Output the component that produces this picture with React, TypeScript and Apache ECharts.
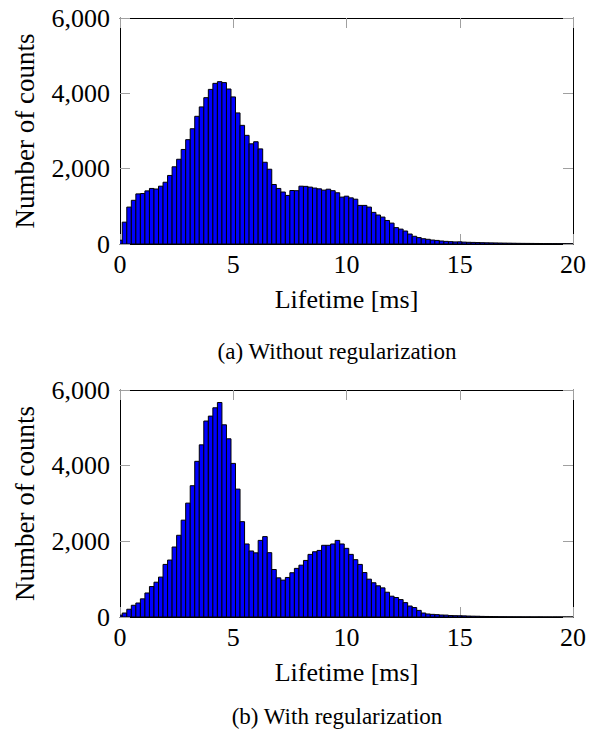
import React, { useEffect, useRef } from "react";
import * as echarts from "echarts";

// Histogram bin width (ms); bins are centred at 0, 0.2, 0.4, ... 20 ms
const BIN_WIDTH = 0.2;

// (a) Without regularization — counts per bin
const countsWithout: number[] = [
  100, 580, 980, 1160, 1330, 1340, 1410, 1475, 1460, 1535,
  1640, 1820, 2050, 2250, 2510, 2770, 3060, 3390, 3640, 3885,
  4105, 4265, 4310, 4285, 4115, 3905, 3480, 3150, 2885, 2660,
  2715, 2525, 2170, 1985, 1580, 1475, 1380, 1290, 1420, 1415,
  1535, 1530, 1510, 1485, 1465, 1430, 1455, 1415, 1360, 1245,
  1270, 1225, 1190, 1025, 1025, 980, 840, 770, 715, 625,
  555, 435, 395, 345, 265, 205, 170, 140, 125, 105,
  95, 80, 70, 62, 55, 58, 50, 45, 42, 38,
  35, 32, 30, 28, 26, 24, 22, 20, 18, 17,
  16, 15, 14, 13, 12, 12, 11, 10, 10, 9,
  8,
];

// (b) With regularization — counts per bin
const countsWith: number[] = [
  50, 105, 205, 310, 370, 480, 635, 805, 920, 1055,
  1390, 1505, 1850, 2160, 2560, 3010, 3470, 4115, 4550, 5180,
  5310, 5530, 5670, 5080, 4710, 4060, 3380, 2520, 1930, 1745,
  1695, 2025, 2125, 1700, 1255, 1035, 975, 1045, 1170, 1285,
  1370, 1495, 1655, 1725, 1760, 1895, 1895, 1930, 2025, 1930,
  1815, 1655, 1515, 1390, 1175, 1000, 905, 825, 770, 655,
  550, 515, 460, 380, 290, 250, 175, 105, 80, 70,
  62, 53, 50, 38, 35, 33, 30, 25, 22, 20,
  16, 14, 12, 10, 8, 7, 6, 5, 5, 4,
  4, 3, 3, 3, 2, 2, 2, 2, 1, 1,
  1,
];

const xTicks = [0, 5, 10, 15, 20];
const yTicks = [0, 2000, 4000, 6000];
const xLabel = "Lifetime [ms]";
const yLabel = "Number of counts";
const captions = ["(a) Without regularization", "(b) With regularization"];

const FONT = "'Liberation Serif', 'Times New Roman', serif";

function toPairs(values: number[]): number[][] {
  return values.map((v, i) => [i * BIN_WIDTH, v]);
}

function renderBar(_params: any, api: any) {
  const x = api.value(0);
  const y = api.value(1);
  const p0 = api.coord([x - BIN_WIDTH / 2, y]);
  const p1 = api.coord([x + BIN_WIDTH / 2, 0]);
  return {
    type: "rect",
    shape: { x: p0[0], y: p0[1], width: p1[0] - p0[0], height: p1[1] - p0[1] },
    style: { fill: "#0000ff", stroke: "#000000", lineWidth: 1 },
  };
}

export default function App() {
  const ref = useRef<HTMLDivElement>(null);

  useEffect(() => {
    if (!ref.current) return;
    const chart = echarts.init(ref.current, undefined, { renderer: "svg" });

    const tickStyle = { color: "#a0a0a0", width: 1 };
    const lineStyle = { color: "#000000", width: 1 };
    const labelStyle = { fontSize: 26, fontFamily: FONT, color: "#000000" };
    const nameStyle = { fontSize: 27, fontFamily: FONT, color: "#000000" };

    const xMin = xTicks[0];
    const xMax = xTicks[xTicks.length - 1];
    const xInt = xTicks[1] - xTicks[0];
    const yMin = yTicks[0];
    const yMax = yTicks[yTicks.length - 1];
    const yInt = yTicks[1] - yTicks[0];

    const grids = [
      { left: 120, right: 27, top: 18, height: 226 },
      { left: 120, right: 27, top: 390, height: 227 },
    ];

    const xAxes: any[] = [];
    const yAxes: any[] = [];
    grids.forEach((_g, gi) => {
      xAxes.push({
        gridIndex: gi,
        type: "value",
        position: "bottom",
        min: xMin,
        max: xMax,
        interval: xInt,
        axisLine: { show: true, onZero: false, lineStyle },
        axisTick: { show: true, inside: true, length: 10, lineStyle: tickStyle },
        axisLabel: { ...labelStyle, margin: 7 },
        splitLine: { show: false },
        name: xLabel,
        nameLocation: "middle",
        nameGap: 42,
        nameTextStyle: labelStyle,
      });
      xAxes.push({
        gridIndex: gi,
        type: "value",
        position: "top",
        min: xMin,
        max: xMax,
        interval: xInt,
        axisLine: { show: true, onZero: false, lineStyle },
        axisTick: { show: true, inside: true, length: 10, lineStyle: tickStyle },
        axisLabel: { show: false },
        splitLine: { show: false },
      });
      yAxes.push({
        gridIndex: gi,
        type: "value",
        position: "left",
        min: yMin,
        max: yMax,
        interval: yInt,
        axisLine: { show: true, onZero: false, lineStyle },
        axisTick: { show: true, inside: true, length: 10, lineStyle: tickStyle },
        axisLabel: {
          ...labelStyle,
          margin: 10,
          formatter: (v: number) => String(v).replace(/\B(?=(\d{3})+(?!\d))/g, ","),
        },
        splitLine: { show: false },
        name: yLabel,
        nameLocation: "middle",
        nameGap: 82,
        nameTextStyle: nameStyle,
      });
      yAxes.push({
        gridIndex: gi,
        type: "value",
        position: "right",
        min: yMin,
        max: yMax,
        interval: yInt,
        axisLine: { show: true, onZero: false, lineStyle },
        axisTick: { show: true, inside: true, length: 10, lineStyle: tickStyle },
        axisLabel: { show: false },
        splitLine: { show: false },
      });
    });

    const datasets = [countsWithout, countsWith];

    chart.setOption({
      animation: false,
      backgroundColor: "#ffffff",
      grid: grids,
      xAxis: xAxes,
      yAxis: yAxes,
      series: datasets.map((d, gi) => ({
        type: "custom",
        xAxisIndex: gi * 2,
        yAxisIndex: gi * 2,
        clip: true,
        renderItem: renderBar,
        encode: { x: 0, y: 1 },
        data: toPairs(d),
      })),
      graphic: [
        {
          type: "text",
          x: 337,
          y: 351,
          style: {
            text: captions[0],
            fontSize: 23,
            fontFamily: FONT,
            fill: "#000000",
            textAlign: "center",
            textVerticalAlign: "middle",
          },
        },
        {
          type: "text",
          x: 337,
          y: 716,
          style: {
            text: captions[1],
            fontSize: 23,
            fontFamily: FONT,
            fill: "#000000",
            textAlign: "center",
            textVerticalAlign: "middle",
          },
        },
      ],
    });

    return () => chart.dispose();
  }, []);

  return (
    <div
      ref={ref}
      style={{ position: "absolute", left: 0, top: 0, width: 600, height: 734 }}
    />
  );
}
